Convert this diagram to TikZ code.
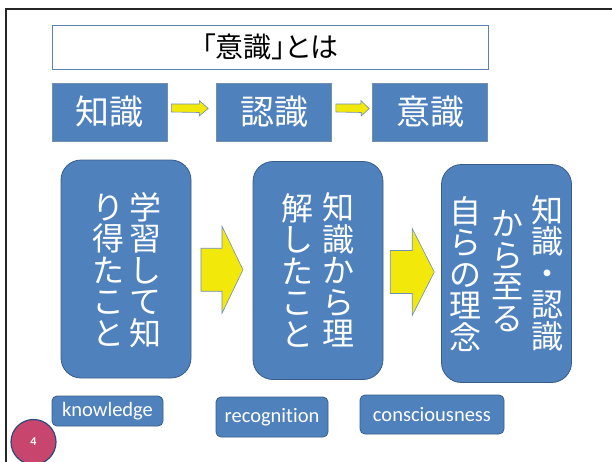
\documentclass[tikz,border=0pt]{standalone}
\usepackage{fontspec}
\setmainfont{Carlito}[Ligatures={NoCommon}]
\newfontfamily\jp{Noto Sans CJK JP}
\newfontfamily\jpp[RawFeature=+palt]{Noto Sans CJK JP}
\usetikzlibrary{calc}
\definecolor{boxblue}{HTML}{4F81BD}
\definecolor{boxedge}{HTML}{385D8A}
\definecolor{arrowyellow}{HTML}{F2E90A}
\definecolor{arrowedge}{HTML}{6F8FB8}
\definecolor{dotred}{HTML}{C8466E}
\definecolor{dotedge}{HTML}{2E4A7C}
\begin{document}
\begin{tikzpicture}[x=1pt,y=-1pt,
  titlebox/.style={draw=boxblue!80!gray,line width=0.9pt,fill=white,minimum width=436pt,minimum height=44pt,inner sep=0pt,font=\jpp\fontsize{28}{30}\selectfont},
  topbox/.style={draw=boxedge!70,line width=0.6pt,fill=boxblue,text=white,minimum width=115pt,minimum height=58pt,inner sep=0pt,font=\jp\fontsize{34}{36}\selectfont},
  bigbox/.style={draw=boxedge,line width=0.8pt,fill=boxblue,rounded corners=20pt,minimum width=130pt,minimum height=218pt,inner sep=0pt},
  vcol/.style={text=white,align=center,inner sep=0pt,font=\jp\fontsize{32}{31.5}\selectfont},
  labbox/.style={draw=boxedge,line width=0.8pt,fill=boxblue,rounded corners=5pt,text=white,inner sep=0pt,font=\fontsize{20.5}{23}\selectfont},
  yarrow/.style={fill=arrowyellow,draw=arrowedge,line width=0.6pt,line join=miter},
  pagenum/.style={circle,draw=dotedge,line width=1.2pt,fill=dotred,text=white,minimum size=45pt,inner sep=0pt,font=\bfseries\fontsize{12}{14}\selectfont}
]
\useasboundingbox (0,0) rectangle (612,461);
% page frame
\draw[line width=2pt,draw=black!85] (5.5,470) -- (5.5,8.5) -- (620,8.5);
% title
\node[titlebox] (title) at (270,47) {「意識」とは};
% top row
\node[topbox] (a1) at (109.5,112) {知識};
\node[topbox] (a2) at (274,112) {認識};
\node[topbox] (a3) at (430,112) {意識};
% small arrows
\draw[yarrow] ($(a1.east)+(4,-8)$) -- ++(28,0) -- ++(0,-3.5) -- ($(a2.west)+(-8,-3.5)$) -- ++(-9,7.5) -- ++(0,-3.5) -- ($(a1.east)+(4,0)$) -- cycle;
\draw[yarrow] ($(a2.east)+(4,-8)$) -- ++(25,0) -- ++(0,-3.5) -- ($(a3.west)+(-3,-3.5)$) -- ++(-8,7.5) -- ++(0,-3.5) -- ($(a2.east)+(4,0)$) -- cycle;
% big boxes
\node[bigbox] (b1) at (126,269) {};
\node[bigbox] (b2) at (318,270.5) {};
\node[bigbox] (b3) at (506.5,273.5) {};
% vertical text columns
\node[vcol] (c11) at (145,270) {学\\習\\し\\て\\知};
\node[vcol] (c12) at (108,270) {り\\得\\た\\こ\\と};
\node[vcol] (c21) at (338,270) {知\\識\\か\\ら\\理};
\node[vcol] (c22) at (297,270) {解\\し\\た\\こ\\と};
\node[vcol] (c31) at (547,273) {知\\識\\・\\認\\識};
\node[vcol] (c32) at (507,271) {か\\ら\\至\\る};
\node[vcol] (c33) at (465,274) {自\\ら\\の\\理\\念};
% big arrows
\coordinate (m1) at ($(b1.east)!0.5!(b2.west)$);
\coordinate (m2) at ($(b2.east)!0.5!(b3.west)$);
\draw[yarrow] ($(m1)+(-21,-21.5)$) -- ++(21,0) -- ++(0,-22) -- ($(m1)+(21,0)$) -- ++(-21,43.5) -- ++(0,-22) -- ++(-21,0) -- cycle;
\draw[yarrow] ($(m2)+(-22,-21.5)$) -- ++(22,0) -- ++(0,-22) -- ($(m2)+(22,0)$) -- ++(-22,43.5) -- ++(0,-22) -- ++(-22,0) -- cycle;
% bottom labels
\node[labbox,minimum width=111pt,minimum height=30pt] (k1) at (107.5,411) {knowledge};
\node[labbox,minimum width=112pt,minimum height=40pt] (k2) at (272,417) {recognition};
\node[labbox,minimum width=144pt,minimum height=39pt] (k3) at (432,414.5) {consciousness};
% page number
\node[pagenum] (pn) at (33.5,442) {4};
\end{tikzpicture}
\end{document}
